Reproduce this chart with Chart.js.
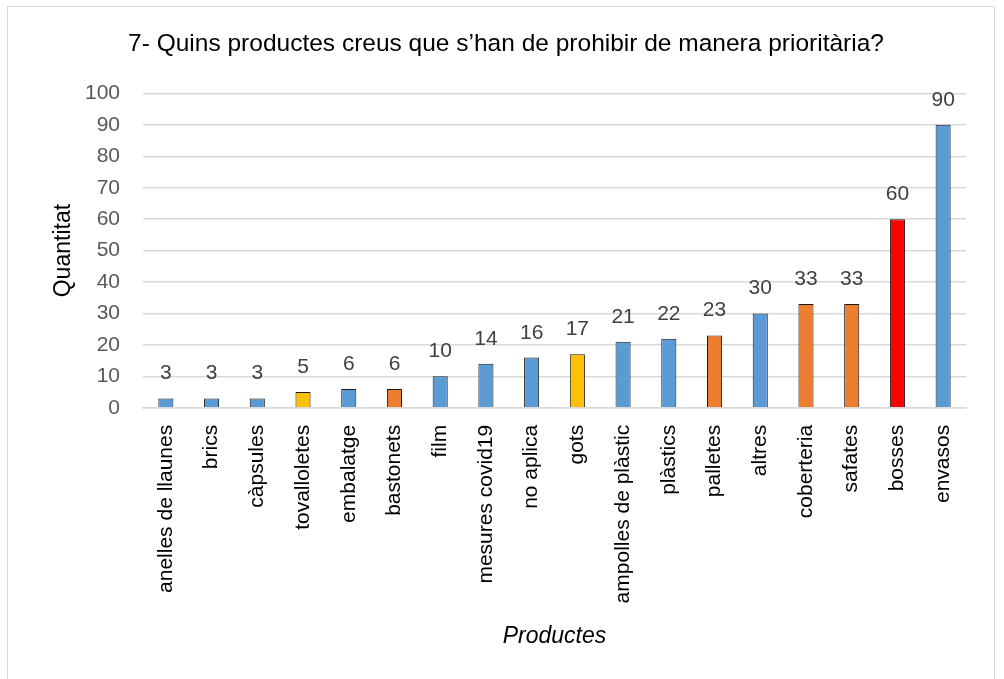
<!DOCTYPE html>
<html><head><meta charset="utf-8">
<script src="https://cdn.jsdelivr.net/npm/chart.js@4/dist/chart.umd.min.js"></script>
<style>
html,body{margin:0;padding:0;background:#fff;}
#wrap{position:absolute;left:0;top:0;width:1004px;height:679px;}
#frame{position:absolute;left:7px;top:6px;width:988px;height:700px;border:1.5px solid #d9d9d9;box-sizing:border-box;pointer-events:none;}
</style></head>
<body>
<div id="wrap"><canvas id="c" width="1004" height="679"></canvas><div id="frame"></div></div>
<script>
const categories = ["anelles de llaunes","brics","càpsules","tovalloletes","embalatge","bastonets","film","mesures covid19","no aplica","gots","ampolles de plàstic","plàstics","palletes","altres","coberteria","safates","bosses","envasos"];
const values = [3,3,3,5,6,6,10,14,16,17,21,22,23,30,33,33,60,90];
const barColors = ["#5B9BD5","#5B9BD5","#5B9BD5","#FFC000","#5B9BD5","#ED7D31","#5B9BD5","#5B9BD5","#5B9BD5","#FFC000","#5B9BD5","#5B9BD5","#ED7D31","#5B9BD5","#ED7D31","#ED7D31","#FF0000","#5B9BD5"];
const yTicks = [0,10,20,30,40,50,60,70,80,90,100];

const FONT = "'Liberation Sans', Arial, sans-serif";
const PAD_LEFT = 46;
const labelPlugin = {
  id:'lbls',
  afterDatasetsDraw(chart){
    const ctx = chart.ctx;
    const meta = chart.getDatasetMeta(0);
    ctx.save();
    ctx.fillStyle = '#404040';
    ctx.font = "21px " + FONT;
    ctx.textAlign = 'center';
    ctx.textBaseline = 'alphabetic';
    meta.data.forEach((el,i)=>{
      ctx.fillText(String(values[i]), el.x, el.y - 19);
    });
    ctx.restore();
  }
};
new Chart(document.getElementById('c'), {
  type:'bar',
  data:{labels:categories, datasets:[{data:values, backgroundColor:barColors, borderColor:'#1a1a1a', borderWidth:1, barPercentage:0.33, categoryPercentage:1}]},
  options:{
    responsive:false, animation:false,
    layout:{padding:{left:PAD_LEFT,right:38,top:20,bottom:29}},
    plugins:{
      legend:{display:false}, tooltip:{enabled:false},
      title:{display:true, text:"7- Quins productes creus que s’han de prohibir de manera prioritària?", color:'#000', font:{family:FONT,size:24.5,weight:'normal'}, padding:{top:10,bottom:34}}
    },
    scales:{
      x:{
        grid:{display:false, drawTicks:false},
        border:{color:'#d9d9d9', width:1.5},
        ticks:{color:'#000', font:{family:FONT,size:21}, minRotation:90, maxRotation:90, padding:17, autoSkip:false},
        title:{display:true, text:'Productes', color:'#000', font:{family:FONT,size:23,style:'italic'}, padding:{top:2,bottom:0}}
      },
      y:{
        min:0, max:100,
        afterBuildTicks(ax){ ax.ticks = yTicks.map(v=>({value:v})); },
        afterFit(ax){ ax.width = 143 - PAD_LEFT; },
        grid:{color:'#d9d9d9', lineWidth:1.5, drawTicks:false},
        border:{display:false},
        ticks:{color:'#595959', font:{family:FONT,size:21}, padding:23},
        title:{display:true, text:'Quantitat', color:'#000', font:{family:FONT,size:23}, padding:{top:4,bottom:4}}
      }
    }
  },
  plugins:[labelPlugin]
});
</script>
</body></html>
